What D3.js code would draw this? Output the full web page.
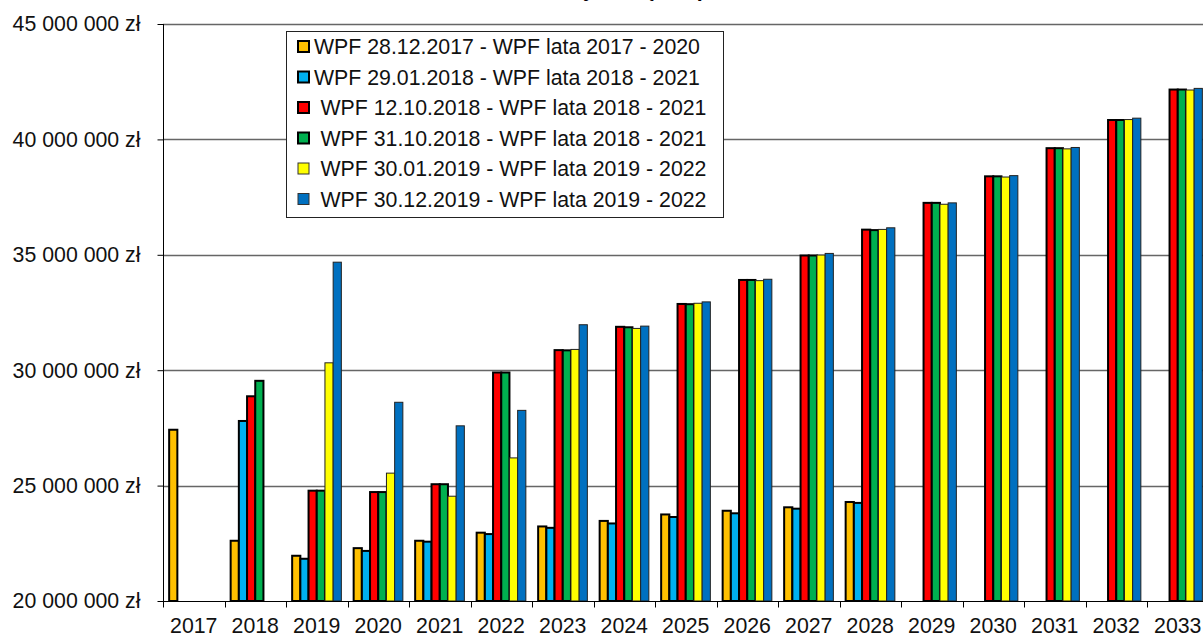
<!DOCTYPE html>
<html>
<head>
<meta charset="utf-8">
<script src="https://cdn.jsdelivr.net/npm/d3@7"></script>
<style>
  body { margin: 0; background: #fff; }
  svg { display: block; font-family: "Liberation Sans", Arial, sans-serif; }
</style>
</head>
<body>
<div id="chart"></div>
<script>
// lata na osi X
const years = ['2017','2018','2019','2020','2021','2022','2023','2024','2025',
               '2026','2027','2028','2029','2030','2031','2032','2033'];

const seriesNames = [
  'WPF 28.12.2017 - WPF lata 2017 - 2020',
  'WPF 29.01.2018 - WPF lata 2018 - 2021',
  'WPF 12.10.2018 - WPF lata 2018 - 2021',
  'WPF 31.10.2018 - WPF lata 2018 - 2021',
  'WPF 30.01.2019 - WPF lata 2019 - 2022',
  'WPF 30.12.2019 - WPF lata 2019 - 2022'
];
const colors = ['#FFC000', '#00B0F0', '#FF0000', '#00B050', '#FFFF00', '#0070C0'];

// wartości w zł (null = brak słupka)
const wpf20171228 = [27420000, 22610000, 21960000, 22290000, 22610000, 22960000, 23230000, 23470000, 23750000,
                     23910000, 24060000, 24290000, null, null, null, null, null];
const wpf20180129 = [null, 27800000, 21830000, 22170000, 22570000, 22900000, 23170000, 23360000, 23640000,
                     23800000, 24000000, 24250000, null, null, null, null, null];
const wpf20181012 = [null, 28870000, 24780000, 24720000, 25060000, 29900000, 30870000, 31880000, 32870000,
                     33910000, 34970000, 36090000, 37250000, 38400000, 39620000, 40840000, 42160000];
const wpf20181031 = [null, 29540000, 24780000, 24720000, 25060000, 29900000, 30860000, 31860000, 32860000,
                     33910000, 34970000, 36070000, 37250000, 38400000, 39620000, 40840000, 42160000];
const wpf20190130 = [null, null, 30320000, 25540000, 24540000, 26200000, 30900000, 31810000, 32900000,
                     33880000, 34990000, 36100000, 37190000, 38370000, 39590000, 40860000, 42140000];
const wpf20191230 = [null, null, 34680000, 28610000, 27590000, 28260000, 31970000, 31910000, 32960000,
                     33940000, 35060000, 36170000, 37250000, 38430000, 39650000, 40920000, 42210000];

const yTicks = [20000000, 25000000, 30000000, 35000000, 40000000, 45000000];

const allSeries = [wpf20171228, wpf20180129, wpf20181012, wpf20181031, wpf20190130, wpf20191230];

const width = 1203, height = 635;
const fs = 21.3;
const svg = d3.select('#chart').append('svg').attr('width', width).attr('height', height);

const x = d3.scaleBand().domain(years).range([163, 1208.5]);
const xs = d3.scaleBand().domain(d3.range(6))
    .range([x.bandwidth() * 0.1, x.bandwidth() * 0.9]);
const y = d3.scaleLinear().domain([20000000, 45000000]).range([601, 24]);

const pl = d3.formatLocale({decimal: ',', thousands: ' ', grouping: [3], currency: ['', ' zł']});
const fmt = pl.format('$,.0f');

// tytuł (prawie cały poza kadrem)
svg.append('text').attr('x', 660).attr('y', -4).attr('text-anchor', 'middle')
    .attr('font-size', fs).attr('font-weight', 'bold').text('Dochody bieżące - porównanie');

// linie siatki
svg.append('g').selectAll('line').data(yTicks.slice(1)).join('line')
    .attr('x1', 163).attr('x2', width + 10)
    .attr('y1', d => Math.round(y(d)) + 0.5).attr('y2', d => Math.round(y(d)) + 0.5)
    .attr('stroke', '#666').attr('stroke-width', 1.3);

// oś Y
const yAxis = d3.axisLeft(y).tickValues(yTicks).tickFormat(fmt).tickSize(6).tickPadding(17);
const gy = svg.append('g').attr('transform', 'translate(163.5,0)').call(yAxis);
gy.select('.domain').attr('stroke', '#000').attr('d', 'M0,' + y(45000000) + 'V' + y(20000000));
gy.selectAll('.tick line').attr('stroke', '#000');
gy.selectAll('text').attr('font-size', fs).attr('fill', '#111').attr('font-family', '"Liberation Sans", Arial, sans-serif');

// słupki
const bars = svg.append('g');
allSeries.forEach((vals, si) => {
  const thin = si >= 4;
  bars.append('g').selectAll('rect')
    .data(vals.map((v, i) => ({year: years[i], v})).filter(d => d.v !== null))
    .join('rect')
    .attr('x', d => x(d.year) + xs(si))
    .attr('width', xs.bandwidth())
    .attr('y', d => y(d.v))
    .attr('height', d => y(20000000) - y(d.v))
    .attr('fill', colors[si])
    .attr('stroke', thin ? '#222' : '#000')
    .attr('stroke-width', thin ? 1 : 2);
});

// oś X
const xAxis = d3.axisBottom(x).tickSize(0).tickPadding(16);
const gx = svg.append('g').attr('transform', 'translate(0,601.5)').call(xAxis);
gx.select('.domain').attr('stroke', '#000').attr('d', 'M163,0H' + (width + 10));
gx.selectAll('text').attr('font-size', fs).attr('fill', '#111').attr('font-family', '"Liberation Sans", Arial, sans-serif');
gx.selectAll('.sep').data(years).join('line').attr('class', 'sep')
    .attr('x1', d => Math.round(x(d)) + 0.5).attr('x2', d => Math.round(x(d)) + 0.5)
    .attr('y1', 0).attr('y2', 6).attr('stroke', '#000');

// legenda
const lg = svg.append('g');
lg.append('rect').attr('x', 286.5).attr('y', 31.5).attr('width', 437).attr('height', 186)
    .attr('fill', '#fff').attr('stroke', '#222');
seriesNames.forEach((name, i) => {
  const cy = 46.5 + i * 30.5;
  const thin = i >= 4;
  lg.append('rect').attr('x', 298).attr('y', cy - 5.5).attr('width', 11).attr('height', 11)
    .attr('fill', colors[i]).attr('stroke', thin ? '#333' : '#000').attr('stroke-width', thin ? 1 : 2);
  lg.append('text').attr('x', i < 2 ? 314 : 320.5).attr('y', cy).attr('dy', '0.36em')
    .attr('font-size', fs).attr('fill', '#111').text(name);
});
</script>
</body>
</html>
